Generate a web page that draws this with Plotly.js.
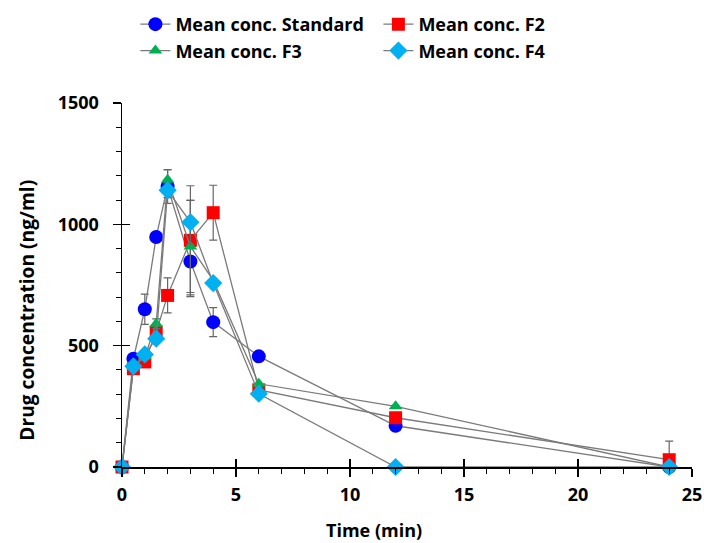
<!DOCTYPE html>
<html>
<head>
<meta charset="utf-8">
<script src="https://cdn.plot.ly/plotly-3.0.1.min.js"></script>
<style>html,body{margin:0;padding:0;background:#fff}#chart{width:704px;height:543px}</style>
</head>
<body>
<div id="chart"></div>
<script>
const time = [0, 0.5, 1, 1.5, 2, 3, 4, 6, 12, 24];
const standard = [0, 446, 650, 948, 1156, 847, 597, 456, 170, 0];
const f2 = [0, 405, 433, 556, 707, 934, 1048, 318, 203, 30];
const f3 = [0, 412, 455, 590, 1184, 909, 769, 343, 250, 0];
const f4 = [0, 415, 464, 529, 1140, 1009, 758, 302, 0, 0];
const errStandard = [0, 0, 62, 0, 70, 145, 60, 0, 0, 0];
const errF2 = [0, 0, 0, 0, 72, 225, 113, 0, 0, 77];
const errF2minus = [0, 0, 0, 0, 72, 225, 113, 0, 0, 30];
const errF3 = [0, 0, 0, 20, 40, 190, 0, 0, 0, 0];
const errF4 = [0, 0, 0, 0, 30, 90, 0, 0, 0, 0];
const names = ['Mean conc. Standard', 'Mean conc. F2', 'Mean conc. F3', 'Mean conc. F4'];
const xTitle = 'Time (min)';
const yTitle = 'Drug concentration (ng/ml)';

const FONT = '"Open Sans", sans-serif';
const lineStyle = {color: '#7a7a7a', width: 1.3};
const errStyle = (arr, minus) => ({type: 'data', array: arr, arrayminus: minus || arr, symmetric: !minus, color: '#666', thickness: 1.2, width: 4});

const traces = [
  {x: time, y: standard, name: names[0], mode: 'lines+markers', line: lineStyle,
   marker: {symbol: 'circle', size: 14, color: '#0000FF'}, error_y: errStyle(errStandard), cliponaxis: false},
  {x: time, y: f2, name: names[1], mode: 'lines+markers', line: lineStyle,
   marker: {symbol: 'square', size: 13, color: '#FF0000'}, error_y: errStyle(errF2, errF2minus), cliponaxis: false},
  {x: time, y: f3, name: names[2], mode: 'lines+markers', line: lineStyle,
   marker: {symbol: 'triangle-up', size: 12, color: '#00B050'}, error_y: errStyle(errF3), cliponaxis: false},
  {x: time, y: f4, name: names[3], mode: 'lines+markers', line: lineStyle,
   marker: {symbol: 'diamond', size: 14, color: '#00B0F0'}, error_y: errStyle(errF4), cliponaxis: false},
  {x: [null], y: [null], xaxis: 'x2', yaxis: 'y2', showlegend: false, hoverinfo: 'skip', mode: 'markers'}
];

const tickFont = {family: FONT, size: 18, color: '#000', weight: 700};
const layout = {
  width: 704, height: 543,
  margin: {l: 122, r: 12, t: 103, b: 76, autoexpand: false},
  paper_bgcolor: '#fff', plot_bgcolor: '#fff',
  font: {family: FONT, color: '#000'},
  showlegend: true,
  legend: {orientation: 'h', x: 0.0235, xanchor: 'left', yref: 'container', y: 0.989, yanchor: 'top',
    font: {family: FONT, size: 18, color: '#000', weight: 700},
    entrywidth: 198, entrywidthmode: 'pixels', tracegroupgap: 0, itemwidth: 30},
  xaxis: {range: [0, 25], tickvals: [0, 5, 10, 15, 20, 25], ticks: 'outside', ticklen: 8, tickwidth: 1.5, tickcolor: '#000',
    showline: true, linecolor: '#000', linewidth: 1.5, showgrid: false, zeroline: false,
    minor: {dtick: 1, ticks: 'outside', ticklen: 5, tickwidth: 1, tickcolor: '#000', showgrid: false},
    tickfont: tickFont, ticklabelstandoff: 3},
  yaxis: {range: [0, 1500], tickvals: [0, 500, 1000, 1500], ticks: 'outside', ticklen: 8, tickwidth: 1.5, tickcolor: '#000',
    showline: true, linecolor: '#000', linewidth: 1.5, showgrid: false, zeroline: false,
    minor: {dtick: 100, ticks: 'outside', ticklen: 5, tickwidth: 1, tickcolor: '#000', showgrid: false},
    tickfont: tickFont, ticklabelstandoff: 10},
  xaxis2: {overlaying: 'x', side: 'bottom', range: [0, 25], tickvals: [0, 5, 10, 15, 20, 25], ticks: 'inside', ticklen: 8, tickwidth: 1.5,
    tickcolor: '#000', showticklabels: false, showline: false, showgrid: false, zeroline: false},
  yaxis2: {overlaying: 'y', side: 'left', range: [0, 1500], tickvals: [0, 500, 1000, 1500], ticks: 'inside', ticklen: 8, tickwidth: 1.5,
    tickcolor: '#000', showticklabels: false, showline: false, showgrid: false, zeroline: false},
  annotations: [
    {text: xTitle, xref: 'paper', yref: 'paper', x: 0.442, y: -0.173, xanchor: 'center', yanchor: 'middle',
     showarrow: false, font: {family: FONT, size: 18, color: '#000', weight: 700}},
    {text: yTitle, xref: 'paper', yref: 'paper', x: -0.1667, y: 0.432, xanchor: 'center', yanchor: 'middle', textangle: -90,
     showarrow: false, font: {family: FONT, size: 19.2, color: '#000', weight: 700}}
  ]
};

Plotly.newPlot('chart', traces, layout, {displayModeBar: false, staticPlot: true});
</script>
</body>
</html>
